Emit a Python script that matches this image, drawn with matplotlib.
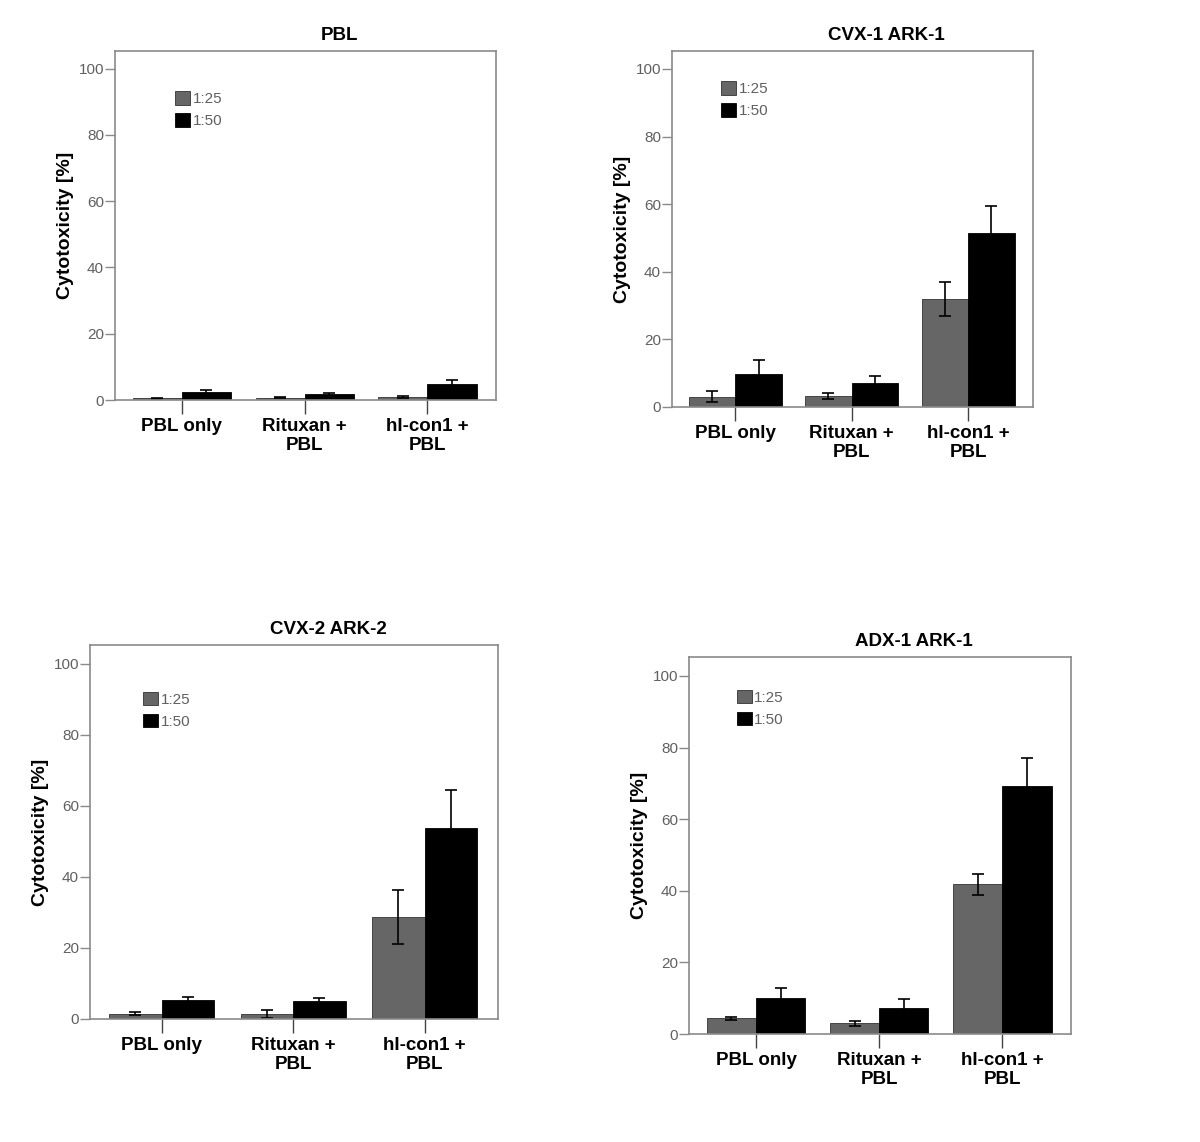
import numpy as np
import matplotlib
matplotlib.use("Agg")
import matplotlib.pyplot as plt

plt.rcParams['font.family'] = ['Liberation Sans', 'DejaVu Sans']

categories = ["PBL only", "Rituxan +\nPBL", "hI-con1 +\nPBL"]
series = ["1:25", "1:50"]
titles = ["PBL", "CVX-1 ARK-1", "CVX-2 ARK-2", "ADX-1 ARK-1"]

# mean cytotoxicity [%] and error, per panel: 1:25 then 1:50
pbl_25 = [0.5, 0.7, 0.9]
pbl_25_err = [0.2, 0.2, 0.3]
pbl_50 = [2.3, 1.7, 4.8]
pbl_50_err = [0.7, 0.4, 1.2]

cvx1_25 = [3.1, 3.3, 31.9]
cvx1_25_err = [1.5, 0.8, 5.1]
cvx1_50 = [9.8, 7.1, 51.5]
cvx1_50_err = [4.2, 2.1, 8.1]

cvx2_25 = [1.5, 1.5, 28.7]
cvx2_25_err = [0.5, 1.1, 7.5]
cvx2_50 = [5.4, 5.0, 53.8]
cvx2_50_err = [0.8, 0.9, 10.7]

adx1_25 = [4.4, 3.0, 41.8]
adx1_25_err = [0.45, 0.7, 3.0]
adx1_50 = [10.0, 7.4, 69.3]
adx1_50_err = [2.9, 2.4, 7.7]

panels = [
    (pbl_25, pbl_25_err, pbl_50, pbl_50_err),
    (cvx1_25, cvx1_25_err, cvx1_50, cvx1_50_err),
    (cvx2_25, cvx2_25_err, cvx2_50, cvx2_50_err),
    (adx1_25, adx1_25_err, adx1_50, adx1_50_err),
]

W, H = 1200, 1142
# axes boxes in pixels: left, right, top, bottom
boxes = [(115, 496, 51, 400), (672, 1033, 51, 407),
         (90, 498, 645, 1019), (689, 1071, 657, 1034)]
legend_pos = [(0.157, 0.885), (0.136, 0.915), (0.13, 0.875), (0.125, 0.913)]

fig = plt.figure(figsize=(W / 100, H / 100), dpi=100)

x = np.arange(len(categories))
bw = 0.4
gray = "#666666"
axis_gray = "#8a8a8a"

for i, (v25, e25, v50, e50) in enumerate(panels):
    l, r, t, b = boxes[i]
    ax = fig.add_axes([l / W, 1 - b / H, (r - l) / W, (b - t) / H])
    ekw = dict(ecolor="black", elinewidth=1.2, capthick=1.2)
    ax.bar(x - bw / 2, v25, bw, yerr=e25, capsize=4.5, color=gray,
           edgecolor="#333333", linewidth=0.6, error_kw=ekw, label=series[0])
    ax.bar(x + bw / 2, v50, bw, yerr=e50, capsize=4.5, color="black",
           edgecolor="black", linewidth=0.6, error_kw=ekw, label=series[1])
    ax.set_xlim(-0.545, 2.558)
    ax.set_ylim(0, 105.3)
    ax.set_yticks([0, 20, 40, 60, 80, 100])
    ax.set_xticks(x)
    ax.set_xticklabels(categories, fontsize=13.5, fontweight="bold",
                       linespacing=1.12)
    ax.tick_params(axis="x", length=10, width=1, color="#444444", pad=3)
    ax.tick_params(axis="y", length=7, width=1, color=axis_gray,
                   labelcolor="#606060", labelsize=11, pad=1)
    for s in ax.spines.values():
        s.set_color(axis_gray)
        s.set_linewidth(1.2)
    ax.set_ylabel("Cytotoxicity [%]", fontsize=14, fontweight="bold",
                  labelpad=3)
    ax.set_title(titles[i], fontsize=13.5, fontweight="bold", pad=8,
                 x=0.5 + 34 / (r - l))
    leg = ax.legend(loc="upper left", bbox_to_anchor=legend_pos[i],
                    frameon=False, fontsize=11, handlelength=1.0,
                    handleheight=1.0, handletextpad=0.15, labelspacing=0.45,
                    borderpad=0, borderaxespad=0)
    for txt in leg.get_texts():
        txt.set_color("#606060")

fig.savefig("out.png", dpi=100)
